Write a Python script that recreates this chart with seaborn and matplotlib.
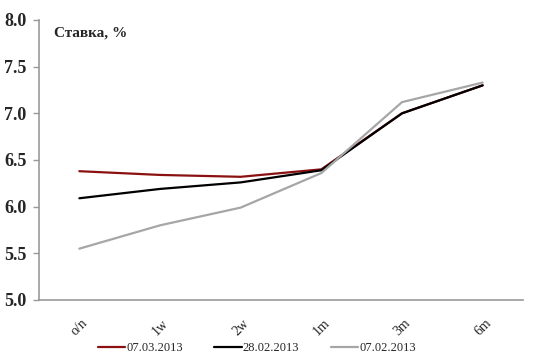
import numpy as np
import pandas as pd
import matplotlib
matplotlib.use("Agg")
import matplotlib.pyplot as plt
import seaborn as sns

tenors = ["o/n", "1w", "2w", "1m", "3m", "6m"]
rate_0703 = [6.38, 6.34, 6.32, 6.40, 7.00, 7.30]
rate_2802 = [6.09, 6.19, 6.26, 6.39, 7.00, 7.30]
rate_0702 = [5.55, 5.80, 5.99, 6.36, 7.12, 7.33]
dates = ["07.03.2013", "28.02.2013", "07.02.2013"]
colors = ["#8B1111", "#000000", "#A6A6A6"]

sns.set_style("white")
plt.rcParams["font.family"] = ["Liberation Serif", "DejaVu Serif"]

rows = []
for d, vals in zip(dates, [rate_0703, rate_2802, rate_0702]):
    for i, (t, v) in enumerate(zip(tenors, vals)):
        rows.append({"pos": i, "tenor": t, "rate": v, "date": d})
df = pd.DataFrame(rows)

fig = plt.figure(figsize=(5.46, 3.56), dpi=100)
ax = fig.add_axes([39 / 546, 1 - 300 / 356, (523 - 39) / 546, 280 / 356])

sns.lineplot(data=df, x="pos", y="rate", hue="date", hue_order=dates,
             palette=colors, linewidth=1.6, ax=ax, legend=True)

ax.set_xlim(-0.5, 5.5)
ax.set_ylim(5.0, 8.0)
yt = np.arange(5.0, 8.01, 0.5)
ax.set_yticks(yt)
ax.set_yticklabels([f"{v:.1f}" for v in yt], fontsize=13, fontweight="bold")
ax.set_xticks(range(len(tenors)))
ax.set_xticklabels(tenors, rotation=45, fontsize=10)
ax.set_xticks(np.arange(-0.5, 5.6, 1.0), minor=True)
ax.tick_params(axis="x", which="major", length=0, pad=12)
ax.tick_params(axis="x", which="minor", length=4, color="#999999", width=1)
ax.tick_params(axis="y", which="major", length=4, color="#999999", width=1,
               left=True, pad=5)
ax.set_xlabel("")
ax.set_ylabel("")

for s in ["top", "right"]:
    ax.spines[s].set_visible(False)
for s in ["left", "bottom"]:
    ax.spines[s].set_color("#999999")
    ax.spines[s].set_linewidth(1.2)

ax.text(0.03, 0.975, "Ставка, %", transform=ax.transAxes,
        fontsize=11, fontweight="bold", va="top", ha="left")

handles, labels = ax.get_legend_handles_labels()
ax.legend(handles, labels, loc="center", bbox_to_anchor=(0.45, -0.172),
          ncol=3, frameon=False, fontsize=9, handlelength=2.2,
          handletextpad=0.1, columnspacing=2.5)

fig.savefig("out.png", dpi=100)
